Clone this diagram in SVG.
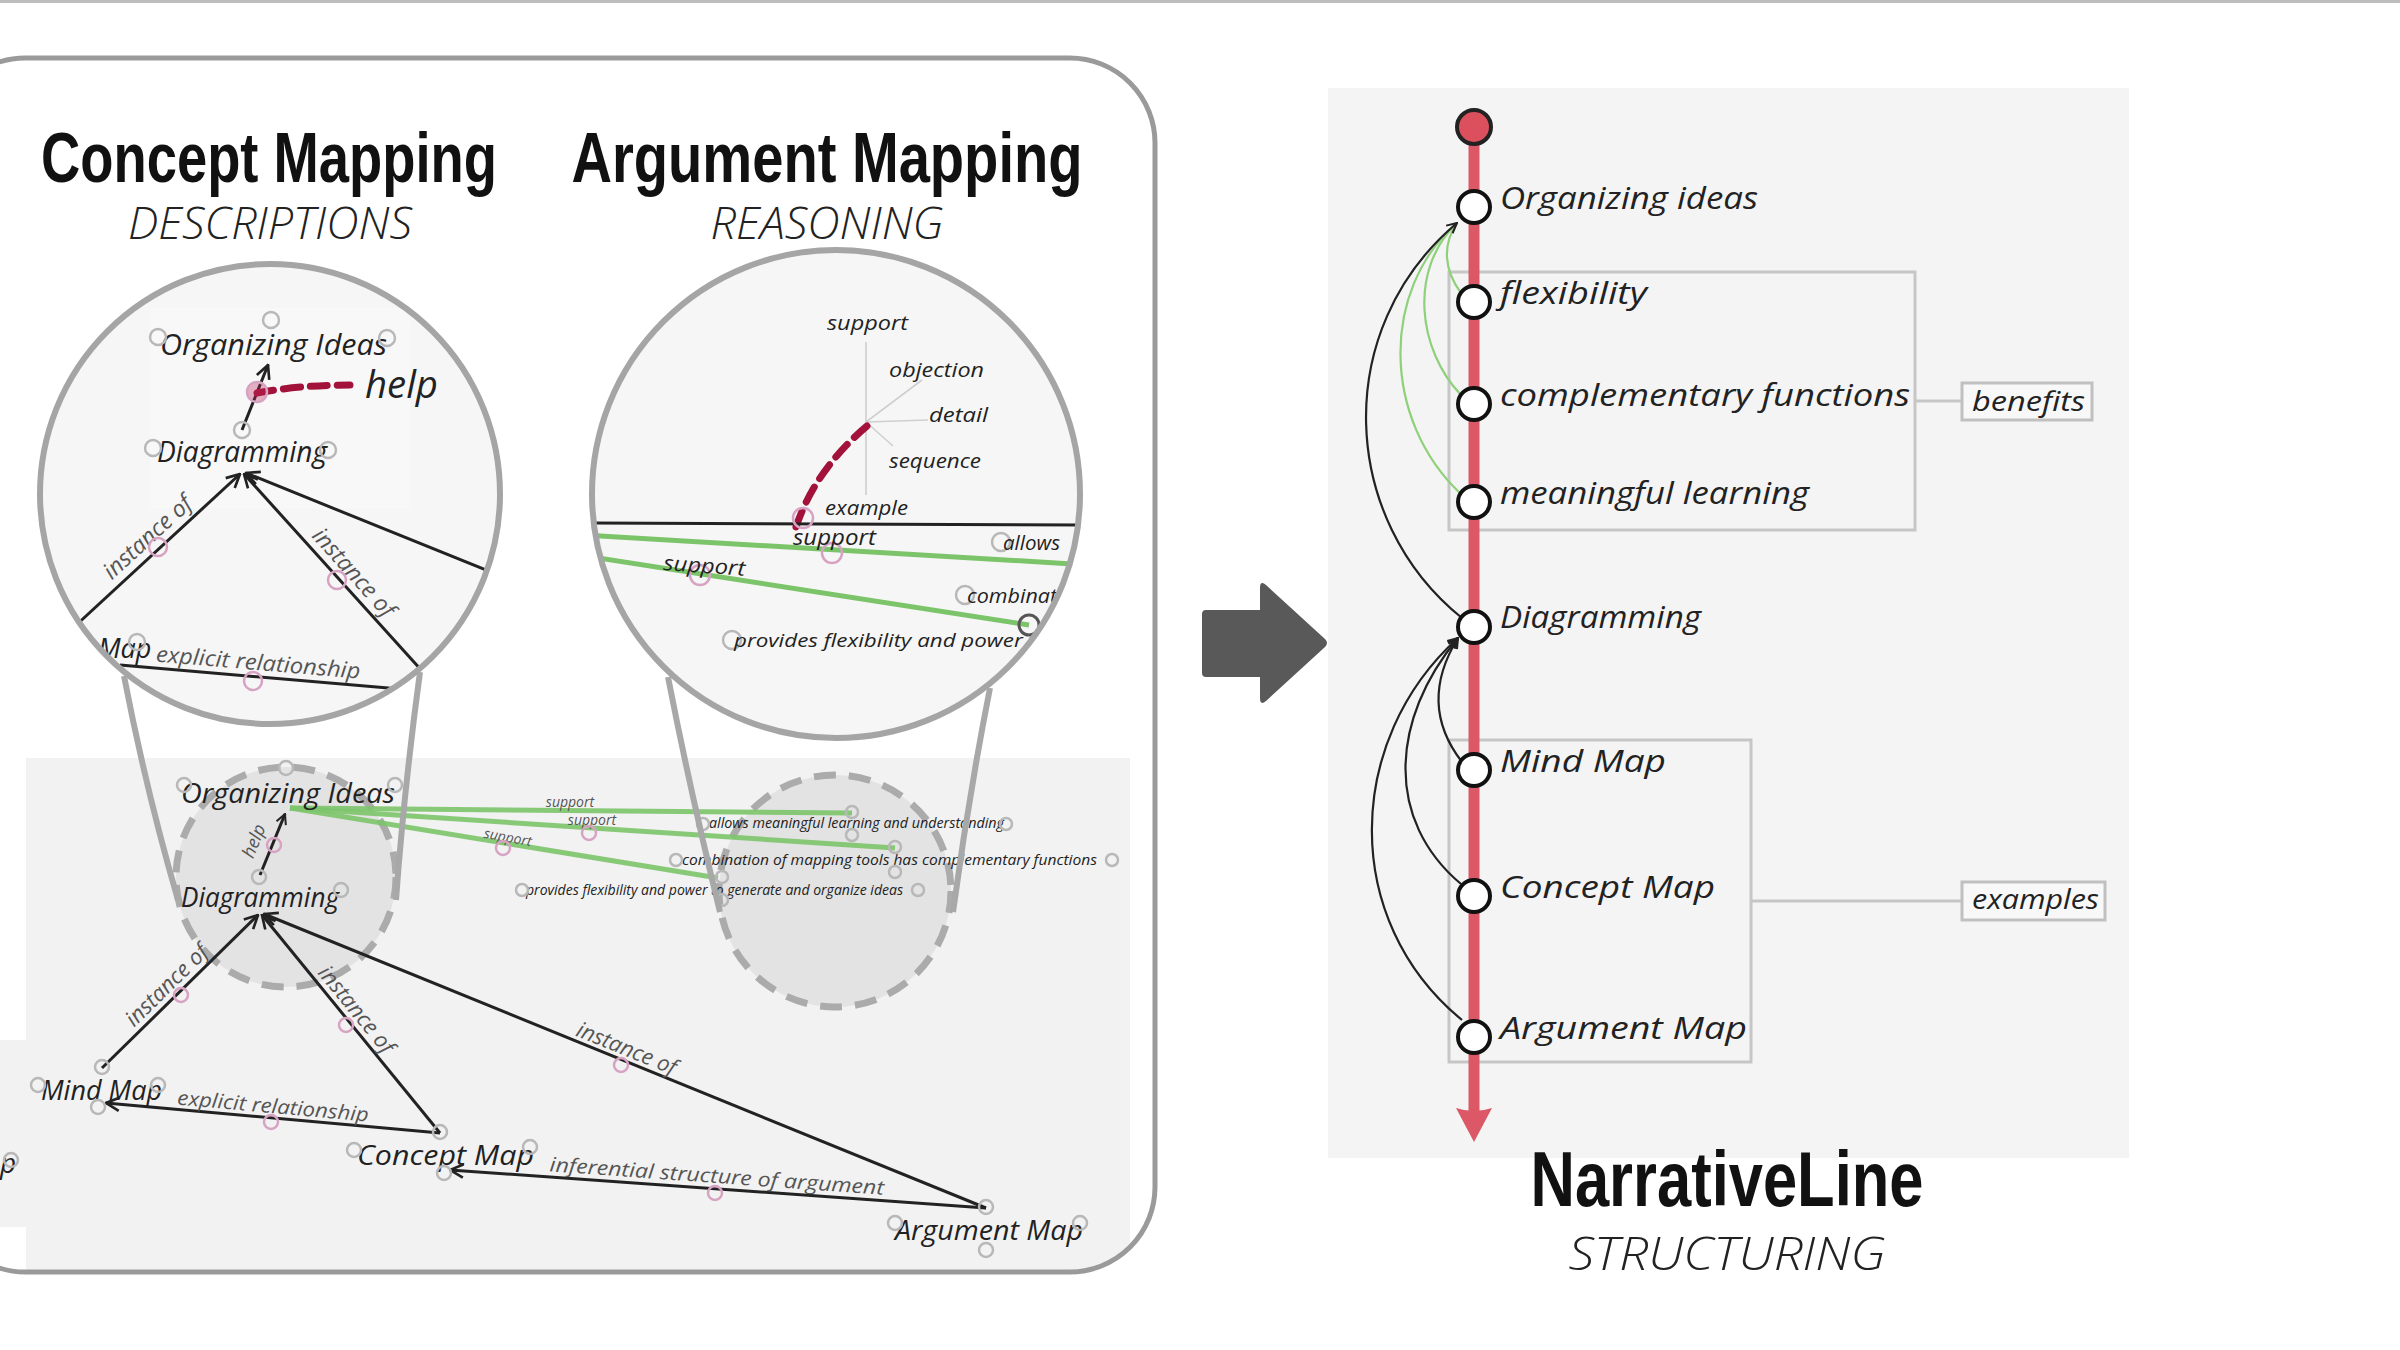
<svg xmlns="http://www.w3.org/2000/svg" width="2400" height="1350" viewBox="0 0 2400 1350">
<style>
.hw{font-family:"Open Sans","DejaVu Sans",sans-serif;font-style:italic;fill:#222}
.lbl{font-family:"Open Sans","DejaVu Sans",sans-serif;font-style:italic;fill:#555}
.title{font-family:"Liberation Sans Narrow","Liberation Sans",sans-serif;font-weight:bold;fill:#111}
.sub{font-family:"Open Sans","Liberation Sans",sans-serif;font-style:italic;font-weight:300;fill:#222}
.port{fill:none;stroke:#b8b8b8;stroke-width:2.5}
.pport{fill:none;stroke:#d7a3c3;stroke-width:2.5}
.edge{fill:none;stroke:#222;stroke-width:3}
.green{fill:none;stroke:#7cc46a;stroke-width:5}
.funnel{fill:none;stroke:#a8a8a8;stroke-width:6}
.dash{fill:#e3e3e3;stroke:#ababab;stroke-width:7;stroke-dasharray:22 13}
.red{fill:none;stroke:#a3123a;stroke-width:7;stroke-dasharray:17 10;stroke-linecap:round}
.thin{fill:none;stroke:#cfcfcf;stroke-width:1.6}
.grp{fill:none;stroke:#c6c6c6;stroke-width:3}
.node{fill:#fff;stroke:#111;stroke-width:4}
.ncurve{fill:none;stroke:#222;stroke-width:2.2}
.gcurve{fill:none;stroke:#8fd07a;stroke-width:2.2}
</style>
<defs>
<marker id="ah" viewBox="0 0 12 12" refX="11" refY="6" markerWidth="16" markerHeight="16" markerUnits="userSpaceOnUse" orient="auto"><path d="M1,1 L11,6 L1,11" fill="none" stroke="#222" stroke-width="2"/></marker>
<marker id="ahs" viewBox="0 0 12 12" refX="11" refY="6" markerWidth="12" markerHeight="12" markerUnits="userSpaceOnUse" orient="auto"><path d="M1,1 L11,6 L1,11" fill="none" stroke="#222" stroke-width="2"/></marker>
<clipPath id="panelClip"><rect x="-60" y="58" width="1215" height="1214" rx="85"/></clipPath>
<clipPath id="lensL"><circle cx="270" cy="494" r="230"/></clipPath>
<clipPath id="lensR"><circle cx="836" cy="494" r="244"/></clipPath>
</defs>
<rect x="0" y="0" width="2400" height="1350" fill="#fff"/>
<rect x="0" y="0" width="2400" height="3" fill="#bdbdbd"/>

<g id="left-panel">
<rect x="-60" y="58" width="1215" height="1214" rx="85" fill="#fff"/>
<g clip-path="url(#panelClip)">
<rect x="26" y="758" width="1104" height="520" fill="#f2f2f2"/>
<rect x="0" y="1040" width="26" height="187" fill="#f2f2f2"/>
</g>
<rect x="-60" y="58" width="1215" height="1214" rx="85" fill="none" stroke="#9a9a9a" stroke-width="5"/>
</g>

<g id="titles">
<text class="title" x="269" y="182" font-size="70" text-anchor="middle" textLength="456" lengthAdjust="spacingAndGlyphs">Concept Mapping</text>
<text class="sub" x="270" y="239" font-size="44" text-anchor="middle" textLength="284" lengthAdjust="spacingAndGlyphs">DESCRIPTIONS</text>
<text class="title" x="827" y="182" font-size="70" text-anchor="middle" textLength="511" lengthAdjust="spacingAndGlyphs">Argument Mapping</text>
<text class="sub" x="827" y="239" font-size="44" text-anchor="middle" textLength="233" lengthAdjust="spacingAndGlyphs">REASONING</text>
</g>

<g id="focus-left"><circle class="dash" cx="286" cy="877" r="110"/></g>
<g id="focus-right"><circle class="dash" cx="835" cy="891" r="116"/></g>

<g id="connectors-lower">
<path class="edge" d="M102,1068 L258,915" marker-end="url(#ah)"/>
<path class="edge" d="M440,1133 L262,915" marker-end="url(#ah)"/>
<path class="edge" d="M986,1208 L264,914" marker-end="url(#ah)"/>
<path class="edge" d="M440,1133 L106,1103" marker-end="url(#ah)"/>
<path class="edge" d="M986,1208 L450,1170" marker-end="url(#ah)"/>
<path class="edge" stroke-width="2.5" d="M260,875 L285,814" marker-end="url(#ahs)"/>
<path class="green" stroke-opacity="0.9" d="M290,808 L852,813"/>
<path class="green" stroke-opacity="0.9" d="M290,808 L895,848"/>
<path class="green" stroke-opacity="0.9" d="M290,808 L718,878"/>
</g>

<g id="lower-labels">
<text class="lbl" font-size="22" transform="translate(176,995) rotate(-44.45)" x="0" y="-6" text-anchor="middle">instance of</text>
<circle class="pport" cx="181" cy="995" r="7"/>
<text class="lbl" font-size="22" transform="translate(346,1018) rotate(50.7)" x="0" y="-6" text-anchor="middle">instance of</text>
<circle class="pport" cx="346" cy="1025" r="7"/>
<text class="lbl" font-size="22" transform="translate(622,1060) rotate(22.1)" x="0" y="-5" text-anchor="middle">instance of</text>
<circle class="pport" cx="621" cy="1065" r="7"/>
<text class="lbl" font-size="20" transform="translate(272,1118) rotate(5.1)" x="0" y="-5" text-anchor="middle" textLength="192" lengthAdjust="spacingAndGlyphs">explicit relationship</text>
<circle class="pport" cx="271" cy="1122" r="7"/>
<text class="lbl" font-size="20" transform="translate(716,1189) rotate(4.04)" x="0" y="-6" text-anchor="middle" textLength="335" lengthAdjust="spacingAndGlyphs">inferential structure of argument</text>
<circle class="pport" cx="715" cy="1193" r="7"/>
<text class="lbl" font-size="18" transform="translate(266,846) rotate(-67.6)" x="0" y="-7" text-anchor="middle">help</text>
<circle class="pport" cx="274" cy="845" r="7"/>
<text class="lbl" font-size="14" x="570" y="807" text-anchor="middle">support</text>
<text class="lbl" font-size="14" x="592" y="825" text-anchor="middle">support</text>
<text class="lbl" font-size="14" transform="translate(507,842) rotate(10)" text-anchor="middle">support</text>
<circle class="pport" cx="589" cy="833" r="7"/>
<circle class="pport" cx="503" cy="848" r="7"/>
</g>

<g id="node-organizing-lower">
<text class="hw" x="181" y="803" font-size="28" textLength="214" lengthAdjust="spacingAndGlyphs">Organizing Ideas</text>
<circle class="port" cx="286" cy="768" r="7"/><circle class="port" cx="184" cy="785" r="7"/><circle class="port" cx="395" cy="785" r="7"/>
</g>
<g id="node-diagramming-lower">
<text class="hw" x="181" y="907" font-size="28" textLength="158" lengthAdjust="spacingAndGlyphs">Diagramming</text>
<circle class="port" cx="259" cy="877" r="7"/><circle class="port" cx="341" cy="890" r="7"/>
</g>
<g id="node-mindmap-lower">
<text class="hw" x="41" y="1100" font-size="28" textLength="121" lengthAdjust="spacingAndGlyphs">Mind Map</text>
<circle class="port" cx="38" cy="1085" r="7"/><circle class="port" cx="158" cy="1085" r="7"/><circle class="port" cx="102" cy="1067" r="7"/><circle class="port" cx="98" cy="1107" r="7"/>
</g>
<g id="node-conceptmap-lower">
<text class="hw" x="357" y="1165" font-size="28" textLength="177" lengthAdjust="spacingAndGlyphs">Concept Map</text>
<circle class="port" cx="354" cy="1150" r="7"/><circle class="port" cx="530" cy="1147" r="7"/><circle class="port" cx="440" cy="1132" r="7"/><circle class="port" cx="444" cy="1173" r="7"/>
</g>
<g id="node-argumentmap-lower">
<text class="hw" x="895" y="1240" font-size="28" textLength="188" lengthAdjust="spacingAndGlyphs">Argument Map</text>
<circle class="port" cx="895" cy="1223" r="7"/><circle class="port" cx="1080" cy="1223" r="7"/><circle class="port" cx="986" cy="1207" r="7"/><circle class="port" cx="986" cy="1250" r="7"/>
</g>
<g id="node-offscreen-lower">
<text class="hw" x="0" y="1173" font-size="28">p</text>
<circle class="port" cx="11" cy="1160" r="7"/>
</g>
<g id="node-allows-lower">
<text class="hw" x="709" y="828" font-size="14" textLength="295" lengthAdjust="spacingAndGlyphs">allows meaningful learning and understanding</text>
<circle class="port" cx="703" cy="824" r="6"/><circle class="port" cx="1006" cy="824" r="6"/><circle class="port" cx="852" cy="812" r="6"/><circle class="port" cx="852" cy="835" r="6"/>
</g>
<g id="node-combination-lower">
<text class="hw" x="682" y="865" font-size="14" textLength="415" lengthAdjust="spacingAndGlyphs">combination of mapping tools has complementary functions</text>
<circle class="port" cx="676" cy="860" r="6"/><circle class="port" cx="1112" cy="860" r="6"/><circle class="port" cx="895" cy="847" r="6"/><circle class="port" cx="895" cy="872" r="6"/>
</g>
<g id="node-provides-lower">
<text class="hw" x="526" y="895" font-size="14" textLength="377" lengthAdjust="spacingAndGlyphs">provides flexibility and power to generate and organize ideas</text>
<circle class="port" cx="522" cy="890" r="6"/><circle class="port" cx="918" cy="890" r="6"/><circle class="port" cx="722" cy="877" r="6"/><circle class="port" cx="722" cy="900" r="6"/>
</g>

<g id="funnels">
<path class="funnel" d="M124,676 Q146,790 178,900"/>
<path class="funnel" d="M420,672 Q404,790 396,900"/>
<path class="funnel" d="M668,677 Q690,790 720,912"/>
<path class="funnel" d="M990,688 Q968,800 953,912"/>
</g>

<g id="lens-concept">
<circle cx="270" cy="494" r="230" fill="#f6f6f6"/>
<g clip-path="url(#lensL)">
<rect x="150" y="308" width="260" height="200" fill="#f8f8f8"/>
<path class="edge" d="M60,640 L240,474" marker-end="url(#ah)"/>
<path class="edge" d="M470,724 L244,474" marker-end="url(#ah)"/>
<path class="edge" d="M560,600 L246,473" marker-end="url(#ah)"/>
<path class="edge" d="M120,665 L470,695"/>
<path class="edge" stroke-width="2.5" d="M242,430 L268,365" marker-end="url(#ah)"/>
<path class="red" d="M257,393 Q300,385 350,385"/>
<circle cx="257" cy="392" r="10" fill="#c0285a" fill-opacity="0.35" stroke="#d7a3c3" stroke-width="2.5"/>
<text class="hw" x="160" y="355" font-size="29" textLength="227" lengthAdjust="spacingAndGlyphs">Organizing Ideas</text>
<circle class="port" cx="271" cy="320" r="8"/><circle class="port" cx="158" cy="337" r="8"/><circle class="port" cx="387" cy="338" r="8"/>
<text class="hw" x="365" y="398" font-size="38" font-style="normal" textLength="73" lengthAdjust="spacingAndGlyphs">help</text>
<text class="hw" x="157" y="462" font-size="29" textLength="170" lengthAdjust="spacingAndGlyphs">Diagramming</text>
<circle class="port" cx="242" cy="430" r="8"/><circle class="port" cx="153" cy="448" r="8"/><circle class="port" cx="328" cy="450" r="8"/>
<text class="lbl" font-size="23" transform="translate(158,549) rotate(-42.4)" x="0" y="-8" text-anchor="middle">instance of</text>
<circle class="pport" cx="158" cy="547" r="9"/>
<text class="lbl" font-size="23" transform="translate(342,583) rotate(48.1)" x="0" y="-8" text-anchor="middle">instance of</text>
<circle class="pport" cx="337" cy="580" r="9"/>
<text class="hw" x="98" y="658" font-size="27">Map</text>
<circle class="port" cx="137" cy="642" r="8"/>
<text class="lbl" font-size="22" transform="translate(257,677) rotate(4.8)" x="0" y="-7" text-anchor="middle" textLength="205" lengthAdjust="spacingAndGlyphs">explicit relationship</text>
<circle class="pport" cx="253" cy="681" r="9"/>
</g>
<circle cx="270" cy="494" r="230" fill="none" stroke="#a5a5a5" stroke-width="6"/>
</g>

<g id="lens-argument">
<circle cx="836" cy="494" r="244" fill="#f6f6f6"/>
<g clip-path="url(#lensR)">
<path class="thin" d="M866,422 L866,342 M866,422 L922,380 M866,422 L928,420 M866,422 L893,446 M866,422 L866,495"/>
<text class="hw" x="827" y="330" font-size="20" textLength="81" lengthAdjust="spacingAndGlyphs">support</text>
<text class="hw" x="889" y="377" font-size="20" textLength="95" lengthAdjust="spacingAndGlyphs">objection</text>
<text class="hw" x="929" y="422" font-size="20" textLength="59" lengthAdjust="spacingAndGlyphs">detail</text>
<text class="hw" x="889" y="468" font-size="20" textLength="92" lengthAdjust="spacingAndGlyphs">sequence</text>
<text class="hw" x="825" y="515" font-size="20" textLength="83" lengthAdjust="spacingAndGlyphs">example</text>
<path class="red" stroke-width="6" d="M867,426 Q815,470 796,527"/>
<path class="edge" d="M585,523 L1090,525"/>
<path class="green" d="M585,535 L1090,565"/>
<path class="green" d="M585,556 L1029,625"/>
<circle class="pport" cx="803" cy="518" r="10"/>
<circle class="pport" cx="832" cy="553" r="10"/>
<circle class="pport" cx="700" cy="575" r="10"/>
<text class="hw" x="793" y="545" font-size="21" textLength="83" lengthAdjust="spacingAndGlyphs">support</text>
<text class="hw" transform="translate(663,570) rotate(4)" font-size="21" textLength="82" lengthAdjust="spacingAndGlyphs">support</text>
<circle class="port" cx="1001" cy="542" r="9"/>
<text class="hw" x="1003" y="550" font-size="20" textLength="57" lengthAdjust="spacingAndGlyphs">allows</text>
<circle class="port" cx="965" cy="595" r="9"/>
<text class="hw" x="967" y="603" font-size="20" textLength="90" lengthAdjust="spacingAndGlyphs">combinat</text>
<circle cx="1029" cy="625" r="10" fill="none" stroke="#555" stroke-width="3"/>
<circle class="port" cx="732" cy="640" r="9"/>
<text class="hw" x="734" y="647" font-size="19" textLength="302" lengthAdjust="spacingAndGlyphs">provides flexibility and power t</text>
</g>
<circle cx="836" cy="494" r="244" fill="none" stroke="#a5a5a5" stroke-width="6"/>
</g>

<g id="big-arrow">
<path d="M1202,614 Q1202,610 1206,610 L1260,610 L1260,588 Q1260,580 1266,585 L1325,639 Q1329,643 1325,647 L1266,701 Q1260,706 1260,698 L1260,677 L1206,677 Q1202,677 1202,673 Z" fill="#595959"/>
</g>

<g id="narrative-panel">
<rect x="1328" y="88" width="801" height="1070" fill="#f4f4f4"/>
<rect class="grp" x="1449" y="272" width="466" height="258"/>
<rect class="grp" x="1449" y="740" width="302" height="322"/>
</g>
<g id="narrative-line">
<line x1="1474" y1="127" x2="1474" y2="1115" stroke="#dd5866" stroke-width="11"/>
<path d="M1456,1108 Q1474,1114 1492,1108 L1474,1142 Z" fill="#dd5866"/>
<circle cx="1474" cy="127" r="17" fill="#dc4f5c" stroke="#222" stroke-width="4"/>
</g>
<g id="narrative-connectors">
<path class="gcurve" d="M1461,293 C1444,270 1442,245 1457,223"/>
<path class="gcurve" d="M1461,395 C1418,350 1408,270 1457,223"/>
<path class="gcurve" d="M1461,494 C1382,420 1380,290 1457,223"/>
<path class="ncurve" d="M1462,618 C1340,520 1330,330 1457,223" marker-end="url(#ahs)"/>
<path class="ncurve" d="M1462,762 C1431,722 1432,680 1458,638" marker-end="url(#ahs)"/>
<path class="ncurve" d="M1461,884 C1385,820 1390,720 1458,638" marker-end="url(#ahs)"/>
<path class="ncurve" d="M1462,1020 C1340,920 1345,740 1458,638" marker-end="url(#ahs)"/>
<line x1="1915" y1="401" x2="1962" y2="401" stroke="#c6c6c6" stroke-width="3"/>
<line x1="1751" y1="901" x2="1962" y2="901" stroke="#c6c6c6" stroke-width="3"/>
</g>
<g id="n-organizing"><circle class="node" cx="1474" cy="207" r="16"/><text class="hw" x="1500" y="209" font-size="31" textLength="258" lengthAdjust="spacingAndGlyphs">Organizing ideas</text></g>
<g id="n-flexibility"><circle class="node" cx="1474" cy="302" r="16"/><text class="hw" x="1500" y="304" font-size="31" textLength="147" lengthAdjust="spacingAndGlyphs">flexibility</text></g>
<g id="n-complementary"><circle class="node" cx="1474" cy="404" r="16"/><text class="hw" x="1500" y="406" font-size="31" textLength="410" lengthAdjust="spacingAndGlyphs">complementary functions</text></g>
<g id="n-meaningful"><circle class="node" cx="1474" cy="502" r="16"/><text class="hw" x="1500" y="504" font-size="31" textLength="309" lengthAdjust="spacingAndGlyphs">meaningful learning</text></g>
<g id="n-diagramming"><circle class="node" cx="1474" cy="627" r="16"/><text class="hw" x="1500" y="628" font-size="31" textLength="201" lengthAdjust="spacingAndGlyphs">Diagramming</text></g>
<g id="n-mindmap"><circle class="node" cx="1474" cy="770" r="16"/><text class="hw" x="1500" y="772" font-size="31" textLength="166" lengthAdjust="spacingAndGlyphs">Mind Map</text></g>
<g id="n-conceptmap"><circle class="node" cx="1474" cy="896" r="16"/><text class="hw" x="1500" y="898" font-size="31" textLength="215" lengthAdjust="spacingAndGlyphs">Concept Map</text></g>
<g id="n-argumentmap"><circle class="node" cx="1474" cy="1037" r="16"/><text class="hw" x="1500" y="1039" font-size="31" textLength="247" lengthAdjust="spacingAndGlyphs">Argument Map</text></g>
<g id="n-benefits"><rect x="1962" y="383" width="130" height="37" fill="#f8f8f8" stroke="#c0c0c0" stroke-width="3"/><text class="hw" x="1972" y="411" font-size="28" textLength="113" lengthAdjust="spacingAndGlyphs">benefits</text></g>
<g id="n-examples"><rect x="1962" y="882" width="143" height="38" fill="#f8f8f8" stroke="#c0c0c0" stroke-width="3"/><text class="hw" x="1972" y="909" font-size="28" textLength="127" lengthAdjust="spacingAndGlyphs">examples</text></g>
<g id="narrative-title">
<text class="title" x="1727" y="1206" font-size="78" text-anchor="middle" textLength="393" lengthAdjust="spacingAndGlyphs">NarrativeLine</text>
<text class="sub" x="1727" y="1270" font-size="46" text-anchor="middle" textLength="317" lengthAdjust="spacingAndGlyphs">STRUCTURING</text>
</g>
</svg>
